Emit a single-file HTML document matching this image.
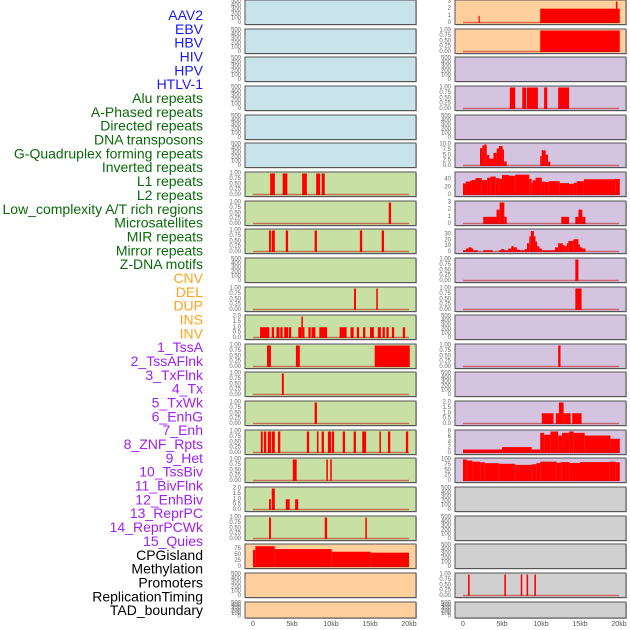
<!DOCTYPE html>
<html><head><meta charset="utf-8">
<style>
html,body{margin:0;padding:0;background:#fff;}
svg{display:block;font-family:"Liberation Sans",sans-serif;}
</style></head>
<body>
<svg id="chart" width="630" height="630" viewBox="0 0 630 630" xmlns="http://www.w3.org/2000/svg">
<g id="labels"></g>
<g id="panels"></g>
<g id="xaxis"></g>
</svg>
<script>
// ---- label data ----
const trackLabels = ["AAV2","EBV","HBV","HIV","HPV","HTLV-1","Alu repeats","A-Phased repeats","Directed repeats","DNA transposons","G-Quadruplex forming repeats","Inverted repeats","L1 repeats","L2 repeats","Low_complexity A/T rich regions","Microsatellites","MIR repeats","Mirror repeats","Z-DNA motifs","CNV","DEL","DUP","INS","INV","1_TssA","2_TssAFlnk","3_TxFlnk","4_Tx","5_TxWk","6_EnhG","7_Enh","8_ZNF_Rpts","9_Het","10_TssBiv","11_BivFlnk","12_EnhBiv","13_ReprPC","14_ReprPCWk","15_Quies","CPGisland","Methylation","Promoters","ReplicationTiming","TAD_boundary"];
const labelGroups = [6,13,5,15,5];
const groupColors = ["#1a1aee","#0a6a0a","#ffa31a","#a020f0","#000000"];

// ---- x axis ----
const xTickValues = [0,5,10,15,20];
const xTickLabels = ["0","5kb","10kb","15kb","20kb"];

// ---- y tick sets ----
const ticksEmpty = [0,100,200,300,400,500];
const ticksUnit = [0,0.25,0.5,0.75,1];
const ticksTwo = [0,0.5,1,1.5,2];

// ---- left column data (segments: start kb, end kb, value) ----
const leftL1 = [[2.2,2.8,1],[3.8,4.4,1],[6.3,6.9,1],[8.1,8.6,1],[8.8,9.2,1]];
const leftL2 = [[17.4,17.7,1]];
const leftMIR = [[2.05,2.3,1],[2.4,2.8,1],[4.2,4.5,1],[7.9,8.2,1],[13.7,14.0,1],[16.5,16.8,1]];
const leftDEL = [[12.95,13.2,1],[15.8,16.0,1]];
const leftINS = [[0.9,2.1,1],[2.4,2.7,1],[3.0,3.4,1],[3.5,3.8,1],[4.0,4.5,1],[4.6,4.9,1],[5.8,6.2,1],[6.2,6.4,2],[6.4,6.6,1],[7.1,7.4,1],[7.5,8.0,1],[8.5,9.5,1],[11.1,12.0,1],[12.5,12.9,1],[13.3,13.6,1],[14.1,14.4,1],[15.0,15.5,1],[16.0,16.4,1],[16.6,16.9,1],[17.1,17.4,1],[17.8,18.1,1],[19.2,19.5,1]];
const leftTssA = [[1.8,2.3,1],[5.5,6.0,1],[15.6,20.1,1]];
const leftTssAFlnk = [[3.7,3.95,1]];
const leftTxFlnk = [[7.9,8.2,1]];
const leftTx = [[1.0,1.25,1],[1.4,1.7,1],[1.9,2.3,1],[2.4,2.8,1],[3.2,3.5,1],[6.9,7.2,1],[8.2,8.4,1],[8.8,9.1,1],[9.6,10.0,1],[10.1,10.4,1],[11.5,11.8,1],[12.9,13.2,1],[14.0,14.5,1],[16.2,16.4,1],[17.3,17.6,1],[19.6,19.9,1]];
const leftTxWk = [[5.1,5.6,1],[9.4,9.6,1],[9.9,10.1,1]];
const leftEnhG = [[2.05,2.3,1],[2.4,2.8,2],[4.2,4.7,1],[5.4,5.8,1]];
const leftEnh = [[2.05,2.3,1],[9.2,9.5,1],[14.4,14.6,1]];
const leftCPG = [[0,0.3,71],[0.3,2.8,87],[2.8,10.1,75],[10.1,15.1,64],[15.1,20.0,60]];

// ---- right column data ----
const rightAAV2 = [[2.0,2.15,1],[9.9,20.1,2],[19.6,19.8,3]];
const rightEBV = [[9.9,20.1,1]];
const rightAlu = [[6.0,6.7,1],[7.6,8.1,1],[8.2,9.6,1],[10.4,10.8,1],[12.2,13.6,1]];
const rightGQuad = [[2.18,2.48,8.3],[2.48,2.74,9.6],[2.74,3.04,10],[3.04,3.38,5.1],[3.38,3.9,3.4],[3.9,4.32,6.1],[4.32,4.62,8.1],[4.62,5.09,9.3],[5.09,5.26,7.7],[5.26,5.6,2.1],[9.9,10.1,4.6],[10.1,10.6,7.3],[10.6,10.9,5.3],[10.9,11.2,2.0]];
const rightInverted = [[0,0.34,30],[0.34,0.9,35],[0.9,1.1,37],[1.1,1.6,39],[1.6,2.4,44],[2.4,3.1,39],[3.1,3.5,45],[3.5,4.2,48],[4.2,4.7,44],[4.7,5.0,42],[5.0,5.9,52],[5.9,6.7,50],[6.7,8.5,53],[8.5,8.8,42],[8.8,8.9,31],[8.9,9.3,38],[9.3,10.1,45],[10.1,10.5,35],[10.5,11.0,34],[11.0,12.4,36],[12.4,13.6,31],[13.6,14.2,29],[14.2,14.6,32],[14.6,15.5,36],[15.5,19.5,41],[19.5,20.1,42]];
const rightL1 = [[2.6,4.3,1],[4.3,4.7,2],[4.7,5.3,3],[5.3,5.6,1],[12.6,13.6,1],[14.4,14.8,1],[14.8,15.3,2],[15.3,15.7,1]];
const rightL2 = [[0,0.4,3],[0.4,0.7,6],[0.7,1.1,8],[1.1,1.3,6],[1.3,1.9,3],[2.6,3.8,3],[4.6,4.9,3],[4.9,5.3,5],[5.3,5.8,3],[5.8,6.2,6],[6.2,6.5,10],[6.5,6.9,8],[6.9,7.3,4],[7.3,7.9,3],[7.9,8.2,5],[8.2,8.5,15],[8.5,8.7,27],[8.7,9.1,36],[9.1,9.3,27],[9.3,9.5,18],[9.5,9.8,10],[9.8,10.1,6],[10.1,11.8,3],[11.8,12.2,8],[12.2,12.8,15],[12.8,13.0,12],[13.0,13.3,10],[13.3,13.5,15],[13.5,14.1,19],[14.1,14.2,21],[14.2,14.8,22],[14.8,15.0,13],[15.0,15.3,8],[15.3,15.7,6]];
const rightLowComplex = [[14.4,14.8,1]];
const rightMicro = [[14.4,15.2,1]];
const rightMirror = [[12.2,12.5,1]];
const rightZDNA = [[10.1,11.6,1],[11.9,12.3,1],[12.3,12.9,2],[12.9,13.8,1],[14.0,15.2,1]];
const rightCNV = [[0,5.0,1.3],[5.0,8.8,2.2],[8.8,9.9,1.3],[9.9,10.4,7.5],[10.4,11.2,6.8],[11.2,12.2,8],[12.2,12.7,6.5],[12.7,13.6,7.5],[13.6,14.2,8],[14.2,15.6,7.5],[15.6,18.9,6.5],[18.9,20.1,5.3]];
const rightDEL = [[0,0.5,100],[0.5,1.2,95],[1.2,2.2,90],[2.2,2.8,87],[2.8,4.6,83],[4.6,6.7,80],[6.7,8.8,75],[8.8,9.4,78],[9.4,9.9,83],[9.9,12.0,90],[12.0,12.6,85],[12.6,13.6,88],[13.6,15.0,84],[15.0,18.8,88],[18.8,19.5,90],[19.5,20.1,87]];
const rightPromoters = [[0.65,0.85,1],[5.3,5.5,1],[7.4,7.6,1],[8.15,8.35,1],[9.15,9.35,1]];

const BLUE="#c8e4ea",GREEN="#c8e0a4",PEACH="#ffd09e",LAV="#d4c4e0",GRAY="#d0d0d0";
const leftPanels = [
 ["aav2",BLUE,500,ticksEmpty,null],["ebv",BLUE,500,ticksEmpty,null],["hbv",BLUE,500,ticksEmpty,null],
 ["hiv",BLUE,500,ticksEmpty,null],["hpv",BLUE,500,ticksEmpty,null],["htlv",BLUE,500,ticksEmpty,null],
 ["l1",GREEN,1,ticksUnit,leftL1],["l2",GREEN,1,ticksUnit,leftL2],["mir",GREEN,1,ticksUnit,leftMIR],
 ["zdna",GREEN,500,ticksEmpty,null],["del",GREEN,1,ticksUnit,leftDEL],["ins",GREEN,2,ticksTwo,leftINS],
 ["tssa",GREEN,1,ticksUnit,leftTssA],["tssaflnk",GREEN,1,ticksUnit,leftTssAFlnk],["txflnk",GREEN,1,ticksUnit,leftTxFlnk],
 ["tx",GREEN,1,ticksUnit,leftTx],["txwk",GREEN,1,ticksUnit,leftTxWk],["enhg",GREEN,2,ticksTwo,leftEnhG],
 ["enh",GREEN,1,ticksUnit,leftEnh],["cpgisland",PEACH,90,[0,25,50,75],leftCPG],["methylation",PEACH,500,ticksEmpty,null],["promoters",PEACH,500,ticksEmpty,null]
];
const rightPanels = [
 ["aav2",PEACH,3,[0,1,2,3],rightAAV2],["ebv",PEACH,1,ticksUnit,rightEBV],["hbv",LAV,500,ticksEmpty,null],
 ["alu",LAV,1,ticksUnit,rightAlu],["directed",LAV,500,ticksEmpty,null],["gquad",LAV,10,[0,2.5,5,7.5,10],rightGQuad],
 ["inverted",LAV,56,[0,20,40],rightInverted],["l1",LAV,3,[0,1,2,3],rightL1],["l2",LAV,37,[0,10,20,30],rightL2],
 ["lowcomplex",LAV,1,ticksUnit,rightLowComplex],["micro",LAV,1,ticksUnit,rightMicro],["mirrorempty",LAV,500,ticksEmpty,null],
 ["mirror",LAV,1,ticksUnit,rightMirror],["dupempty",LAV,500,ticksEmpty,null],["zdna",LAV,2,ticksTwo,rightZDNA],
 ["cnv",LAV,8,[0,2,4,6,8],rightCNV],["del",LAV,100,[0,25,50,75,100],rightDEL],["tx",GRAY,500,ticksEmpty,null],
 ["enhg",GRAY,500,ticksEmpty,null],["cpg",GRAY,500,ticksEmpty,null],["promoters",GRAY,1,ticksUnit,rightPromoters],["tad",GRAY,500,ticksEmpty,null]
];

const NS="http://www.w3.org/2000/svg";
function mk(tag,attrs,parent){const e=document.createElementNS(NS,tag);for(const k in attrs)e.setAttribute(k,attrs[k]);parent.appendChild(e);return e;}
function fmt(v,ticks){
  const needDec = ticks.some(t=>t%1!==0);
  if(!needDec) return String(v);
  const d = ticks.some(t=>Math.round(t*100)%50!==0)?2:1;
  return v.toFixed(d);
}

// labels
const lg=document.getElementById('labels');
let li=0;
labelGroups.forEach((n,g)=>{for(let k=0;k<n;k++){
  const t=mk('text',{x:203,y:15+li*13.84,'text-anchor':'end','dominant-baseline':'central','font-size':14,fill:groupColors[g]},lg);
  t.textContent=trackLabels[li];
  
  
  li++;
}});

const pg=document.getElementById('panels');
function drawColumn(panels,x0,side){
  const pw=171, kb0=x0+8, kbScale=7.8;
  const xs=kb=>kb0+kb*kbScale;
  panels.forEach((p,i)=>{
    const [name,bg,ymax,ticks,data]=p;
    const top=Math.round(i*28.65);
    const h=(i===panels.length-1)?16:24.5;
    const g=mk('g',{},pg);
    
    
    mk('rect',{x:x0+1,y:top+1,width:pw,height:h,fill:'#bbb'},g);
    mk('rect',{x:x0,y:top,width:pw,height:h,fill:bg,stroke:'#555','stroke-width':1},g);
    const yb=top+h-1.5, yt=top+1.5;
    const ys=v=>yb-(v/ymax)*(yb-yt);
    ticks.forEach(tv=>{
      const t=mk('text',{x:x0-4,y:ys(tv),'text-anchor':'end','dominant-baseline':'central','font-size':6,fill:'#666'},g);
      t.textContent=fmt(tv,ticks);
      
      
    });
    if(data){
      data.forEach(s=>{
        const r=mk('rect',{x:xs(s[0]),y:ys(s[2]),width:Math.max(0.8,xs(s[1])-xs(s[0])),height:yb-ys(s[2]),fill:'#ff0000'},g);
        
        
      });
      mk('line',{x1:xs(0),x2:xs(20),y1:yb-0.5,y2:yb-0.5,stroke:'rgba(190,20,20,0.55)','stroke-width':1.5},g);
    }
  });
  const xg=document.getElementById('xaxis');
  xTickValues.forEach((v,j)=>{
    const t=mk('text',{x:xs(v),y:626,'text-anchor':'middle','font-size':7,fill:'#555'},xg);
    t.textContent=xTickLabels[j];
    
    
  });
}
drawColumn(leftPanels,245,'left');
drawColumn(rightPanels,455,'right');
</script>
</body></html>
